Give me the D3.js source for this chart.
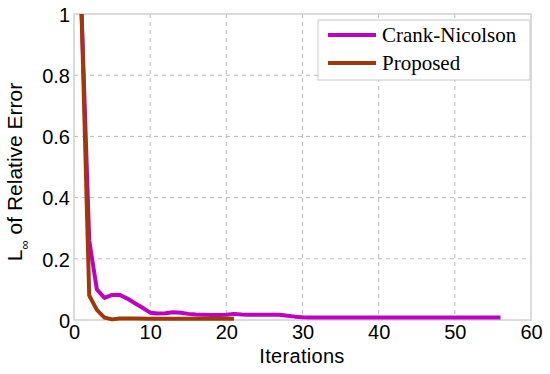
<!DOCTYPE html>
<html>
<head>
<meta charset="utf-8">
<script src="https://cdn.jsdelivr.net/npm/d3@7"></script>
<style>
  body { margin: 0; background: #fff; }
  text { font-family: "Liberation Sans", Arial, sans-serif; }
</style>
</head>
<body>
<script>
// iterations and error values
var cnIter = [1,2,3,4,5,6,7,8,9,10,11,12,13,14,15,16,17,18,19,20,21,22,23,24,25,26,27,28,29,30,31,35,40,45,50,56];
var cnErr  = [1,0.26,0.1,0.072,0.082,0.082,0.07,0.055,0.04,0.024,0.021,0.022,0.025,0.024,0.02,0.018,0.017,0.016,0.016,0.017,0.02,0.018,0.017,0.017,0.017,0.017,0.017,0.014,0.011,0.009,0.008,0.008,0.008,0.008,0.008,0.008];
var prIter = [1,2,3,4,5,6,7,8,10,12,15,18,21];
var prErr  = [1,0.08,0.033,0.008,0.002,0.005,0.005,0.005,0.004,0.004,0.004,0.004,0.004];
var xTicks = [0,10,20,30,40,50,60];
var yTicks = [0,0.2,0.4,0.6,0.8,1];
var seriesNames = ["Crank-Nicolson","Proposed"];
var seriesColors = ["#c000c0","#a0390a"];

var width = 550, height = 374;
// plot box edges (don't call it "top", window.top is taken)
var pl = 74, pr = 531, pt = 14, pb = 320;

var svg = d3.select("body").append("svg")
    .attr("width", width)
    .attr("height", height);

var x = d3.scaleLinear().domain([0,60]).range([pl,pr]);
var y = d3.scaleLinear().domain([0,1]).range([pb,pt]);

// dashed grid
svg.selectAll("line.vgrid").data(xTicks.slice(1,-1)).enter().append("line")
    .attr("x1", d => x(d)).attr("x2", d => x(d))
    .attr("y1", pt).attr("y2", pb)
    .style("stroke","#b8b8b8").style("stroke-dasharray","4,4");
svg.selectAll("line.hgrid").data(yTicks.slice(1,-1)).enter().append("line")
    .attr("y1", d => y(d)).attr("y2", d => y(d))
    .attr("x1", pl).attr("x2", pr)
    .style("stroke","#b8b8b8").style("stroke-dasharray","4,4");

// frame
svg.append("rect")
    .attr("x", pl).attr("y", pt)
    .attr("width", pr-pl).attr("height", pb-pt)
    .style("fill","none").style("stroke","#d0d0d0").style("stroke-width",1.5);

// axes, tick labels only
var xAxis = svg.append("g").attr("transform","translate(0,"+pb+")")
    .call(d3.axisBottom(x).tickValues(xTicks).tickSize(0).tickPadding(2));
var yAxis = svg.append("g").attr("transform","translate("+pl+",0)")
    .call(d3.axisLeft(y).tickValues(yTicks).tickSize(0).tickPadding(4)
        .tickFormat(d => d === 0 || d === 1 ? d3.format("d")(d) : d3.format(".1f")(d)));
svg.selectAll(".domain").remove();
svg.selectAll(".tick text")
    .style("font-family","Liberation Sans, Arial, sans-serif")
    .style("font-size","20px").style("fill","#000");
xAxis.selectAll("text").attr("dy","0.85em");
yAxis.selectAll("text").attr("dy","0.36em");

// lines
var line = d3.line().x(d => x(d[0])).y(d => y(d[1]));
var series = [d3.zip(cnIter, cnErr), d3.zip(prIter, prErr)];
svg.selectAll("path.series").data(series).enter().append("path")
    .attr("d", line)
    .style("fill","none")
    .style("stroke", (d,i) => seriesColors[i])
    .style("stroke-width", 4)
    .style("stroke-linejoin","round");

// axis titles
svg.append("text")
    .attr("x", 302).attr("y", 363)
    .attr("text-anchor","middle")
    .style("font-size","20px")
    .style("letter-spacing","0.3px")
    .text("Iterations");

var yt = svg.append("text")
    .attr("transform","translate(22,172) rotate(-90)")
    .attr("text-anchor","middle")
    .style("font-size","21px");
yt.append("tspan").text("L");
yt.append("tspan").attr("dy", 7).style("font-size","13px").text("\u221e");
yt.append("tspan").attr("dy", -7).text(" of Relative Error");

// legend
var lg = svg.append("g");
lg.append("rect")
    .attr("x", 318).attr("y", 20).attr("width", 212).attr("height", 60)
    .style("fill","#fff").style("stroke","#c8c8c8");
lg.selectAll("line.key").data(seriesNames).enter().append("line")
    .attr("x1", 328).attr("x2", 376)
    .attr("y1", (d,i) => 35 + i*28).attr("y2", (d,i) => 35 + i*28)
    .style("stroke", (d,i) => seriesColors[i]).style("stroke-width", 4);
lg.selectAll("text.key").data(seriesNames).enter().append("text")
    .attr("x", 382).attr("y", (d,i) => 35 + i*28)
    .attr("dy","0.35em")
    .style("font-family","Liberation Serif, Times New Roman, serif")
    .style("font-size","21px")
    .text(d => d);
</script>
</body>
</html>
